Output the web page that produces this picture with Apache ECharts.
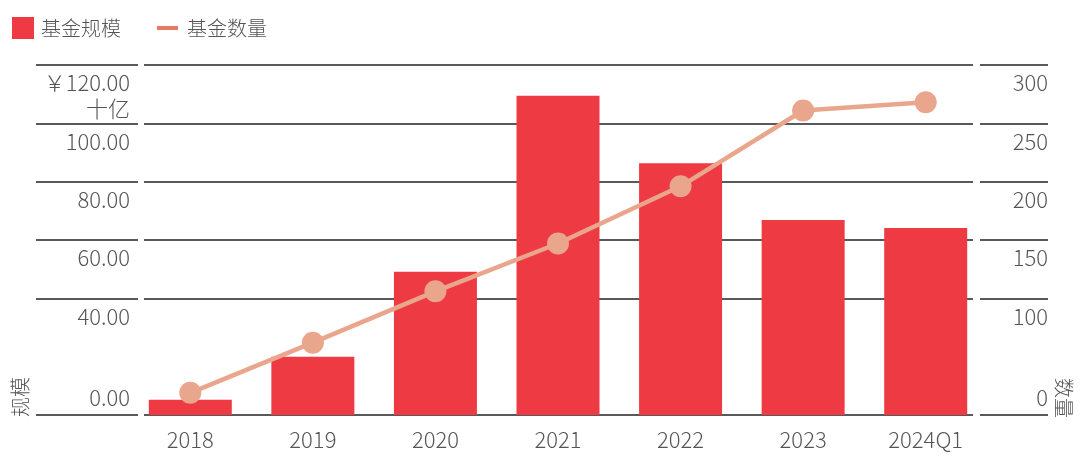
<!DOCTYPE html>
<html>
<head>
<meta charset="utf-8">
<script src="https://cdn.jsdelivr.net/npm/echarts@6/dist/echarts.min.js"></script>
<style>html,body{margin:0;padding:0;background:#fff}#c{width:1080px;height:465px}</style>
</head>
<body>
<div id="c"></div>
<script>
const categories = ['2018', '2019', '2020', '2021', '2022', '2023', '2024Q1'];
const fundSize = [5.2, 20.0, 49.1, 109.5, 86.3, 66.9, 64.1];
const fundCount = [19, 62, 106, 147, 196, 261, 268];
const leftTickValues = [0, 40, 60, 80, 100, 120];
const leftTickLabels = ['0.00', '40.00', '60.00', '80.00', '100.00', '￥120.00\n十亿'];
const rightTickValues = [0, 100, 150, 200, 250, 300];
const rightTickLabels = ['0', '100', '150', '200', '250', '300'];

const FONT = 'Noto Sans CJK SC';
const TXT = '#555';
const GRIDC = '#222';
const TOP = 65, BOTTOM = 50;

function gridLines(values, labels, withLabels, distX) {
  return values.map((v, i) => ({
    yAxis: v,
    label: withLabels ? {
      show: true,
      formatter: labels[i],
      position: v === 0 ? 'insideEndTop' : 'insideEndBottom',
      distance: v === 0 ? [distX, 4] : [distX, 5],
      fontFamily: FONT, fontWeight: 300, fontSize: 22, lineHeight: 26, color: TXT, align: 'right'
    } : { show: false }
  }));
}

function segSeries(xi, yi, values, labels, withLabels, distX) {
  return {
    type: 'scatter', xAxisIndex: xi, yAxisIndex: yi, data: [], silent: true, z: 1,
    markLine: {
      silent: true, z: 1, animation: false, symbol: ['none', 'none'],
      lineStyle: { color: GRIDC, width: 1.7, type: 'solid' },
      label: { show: false },
      emphasis: { disabled: true },
      data: gridLines(values, labels, withLabels, distX)
    }
  };
}

const chart = echarts.init(document.getElementById('c'));
chart.setOption({
  animation: false,
  textStyle: { fontFamily: FONT },
  legend: [
    { data: [{ name: '基金规模', icon: 'rect' }], left: 12, top: 17, padding: 0, itemWidth: 22, itemHeight: 22,
      textStyle: { fontFamily: FONT, fontWeight: 300, fontSize: 20, lineHeight: 22, color: TXT, padding: [0, 0, 0, 2] }, selectedMode: false },
    { data: [{ name: '基金数量', icon: 'rect' }], left: 157, top: 17, padding: 0, itemWidth: 21, itemHeight: 4,
      itemStyle: { color: '#e67b61' },
      textStyle: { fontFamily: FONT, fontWeight: 300, fontSize: 20, lineHeight: 22, color: TXT, padding: [0, 0, 0, 4] }, selectedMode: false }
  ],
  grid: [
    { left: 129, right: 93, top: TOP, bottom: BOTTOM },
    { left: 36, right: 942, top: TOP, bottom: BOTTOM },
    { left: 144, right: 107, top: TOP, bottom: BOTTOM },
    { left: 980, right: 32, top: TOP, bottom: BOTTOM }
  ],
  xAxis: [
    { type: 'category', gridIndex: 0, data: categories,
      axisLine: { show: false }, axisTick: { show: false },
      axisLabel: { fontFamily: FONT, fontWeight: 300, fontSize: 22, lineHeight: 26, color: TXT, margin: 12 } },
    { type: 'value', gridIndex: 1, min: 0, max: 1, show: false },
    { type: 'value', gridIndex: 2, min: 0, max: 1, show: false },
    { type: 'value', gridIndex: 3, min: 0, max: 1, show: false }
  ],
  yAxis: [
    { type: 'value', gridIndex: 0, min: 0, max: 120, show: false },
    { type: 'value', gridIndex: 0, min: 0, max: 300, show: false, position: 'right' },
    { type: 'value', gridIndex: 1, min: 0, max: 120, show: false },
    { type: 'value', gridIndex: 2, min: 0, max: 120, show: false },
    { type: 'value', gridIndex: 3, min: 0, max: 300, show: false }
  ],
  graphic: [
    { type: 'text', left: 10, top: 377, rotation: Math.PI / 2,
      style: { text: '规模', fontFamily: FONT, fontWeight: 300, fontSize: 20, fill: TXT } },
    { type: 'text', left: 1054, top: 378, rotation: -Math.PI / 2,
      style: { text: '数量', fontFamily: FONT, fontWeight: 300, fontSize: 20, fill: TXT } }
  ],
  series: [
    segSeries(1, 2, leftTickValues, leftTickLabels, true, 8),
    segSeries(2, 3, leftTickValues, leftTickLabels, false, 0),
    segSeries(3, 4, rightTickValues, rightTickLabels, true, 0),
    { name: '基金规模', type: 'bar', xAxisIndex: 0, yAxisIndex: 0, data: fundSize,
      barWidth: 83, z: 2, itemStyle: { color: '#ee3a43' } },
    { name: '基金数量', type: 'line', xAxisIndex: 0, yAxisIndex: 1, data: fundCount, z: 3,
      symbol: 'circle', symbolSize: 22,
      lineStyle: { color: '#eaa68c', width: 4.5 },
      itemStyle: { color: '#e9a68c' } }
  ]
});
</script>
</body>
</html>
